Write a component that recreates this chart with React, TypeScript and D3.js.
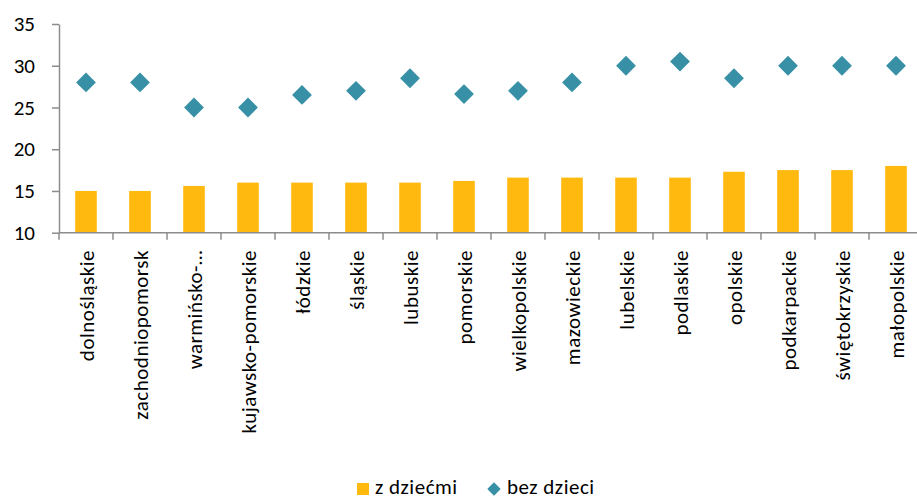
import React, { useEffect, useRef } from 'react';
import * as d3 from 'd3';

const categories = [
  'dolnośląskie', 'zachodniopomorsk', 'warmińsko-…', 'kujawsko-pomorskie',
  'łódzkie', 'śląskie', 'lubuskie', 'pomorskie', 'wielkopolskie',
  'mazowieckie', 'lubelskie', 'podlaskie', 'opolskie', 'podkarpackie',
  'świętokrzyskie', 'małopolskie',
];
const withChildren = [15, 15, 15.6, 16, 16, 16, 16, 16.2, 16.6, 16.6, 16.6, 16.6, 17.3, 17.5, 17.5, 18];
const withoutChildren = [28, 28, 25, 25, 26.5, 27, 28.5, 26.6, 27, 28, 30, 30.5, 28.5, 30, 30, 30];
const yTicks = [10, 15, 20, 25, 30, 35];
const seriesNames = ['z dziećmi', 'bez dzieci'];

const BAR = '#FFB90F';
const DIAMOND = '#3790A6';
const AXIS = '#8c8c8c';
const FONT = 'Carlito, Calibri, Lato, sans-serif';

export default function App() {
  const svgRef = useRef<SVGSVGElement>(null);
  const width = 917;
  const height = 500;

  useEffect(() => {
    document.body.style.margin = '0';
    if (!svgRef.current) return;
    const svg = d3.select(svgRef.current);
    svg.selectAll('*').remove();

    const left = 59;
    const right = 923; // the plot runs a little past the picture's edge
    const top = 24;
    const bottom = 232.7;

    const x = d3.scaleBand<string>().domain(categories).range([left, right]);
    const y = d3.scaleLinear().domain([10, 35]).range([bottom, top]);
    const barW = x.bandwidth() * 0.4;

    // bars
    svg.append('g')
      .selectAll('rect')
      .data(categories)
      .join('rect')
      .attr('x', d => (x(d) as number) + (x.bandwidth() - barW) / 2)
      .attr('y', (d, i) => y(withChildren[i]))
      .attr('width', barW)
      .attr('height', (d, i) => bottom - y(withChildren[i]))
      .attr('fill', BAR);

    // y axis
    const yAxis = svg.append('g')
      .attr('transform', `translate(${left},0)`)
      .call(d3.axisLeft(y).tickValues(yTicks).tickSize(7).tickPadding(17).tickSizeOuter(0));
    yAxis.select('.domain').attr('stroke', AXIS).attr('stroke-width', 1.5);
    yAxis.selectAll('line').attr('stroke', AXIS).attr('stroke-width', 1.5);
    yAxis.selectAll('text')
      .attr('font-family', FONT)
      .attr('font-size', '21px')
      .attr('fill', '#000');

    // x axis line and boundary ticks
    svg.append('line')
      .attr('x1', left).attr('x2', right)
      .attr('y1', bottom).attr('y2', bottom)
      .attr('stroke', AXIS).attr('stroke-width', 1.5);
    const bounds = [...categories.map(c => x(c) as number), right];
    svg.append('g')
      .selectAll('line')
      .data(bounds)
      .join('line')
      .attr('x1', d => d).attr('x2', d => d)
      .attr('y1', bottom).attr('y2', bottom + 7)
      .attr('stroke', AXIS).attr('stroke-width', 1.5);

    // x labels
    svg.append('g')
      .selectAll('text')
      .data(categories)
      .join('text')
      .attr('transform', d => `translate(${(x(d) as number) + x.bandwidth() / 2 + 1},250) rotate(-90)`)
      .attr('dy', '0.35em')
      .attr('text-anchor', 'end')
      .attr('font-family', FONT)
      .attr('font-size', '21px')
      .attr('letter-spacing', '0.5px')
      .attr('fill', '#000')
      .text(d => d);

    // diamonds
    const diamond = d3.symbol().type(d3.symbolSquare).size(196);
    svg.append('g')
      .selectAll('path')
      .data(categories)
      .join('path')
      .attr('d', diamond)
      .attr('transform', (d, i) => `translate(${(x(d) as number) + x.bandwidth() / 2},${y(withoutChildren[i])}) rotate(45)`)
      .attr('fill', DIAMOND);

    // legend
    const legend = svg.append('g').attr('transform', 'translate(357,483)');
    legend.append('rect')
      .attr('width', 12).attr('height', 12)
      .attr('fill', BAR);
    legend.append('text')
      .attr('x', 18).attr('y', 11)
      .attr('font-family', FONT).attr('font-size', '21px').attr('letter-spacing', '0.5px').attr('fill', '#000')
      .text(seriesNames[0]);
    legend.append('path')
      .attr('d', d3.symbol().type(d3.symbolSquare).size(90)())
      .attr('transform', 'translate(137,6) rotate(45)')
      .attr('fill', DIAMOND);
    legend.append('text')
      .attr('x', 150).attr('y', 11)
      .attr('font-family', FONT).attr('font-size', '21px').attr('letter-spacing', '0.5px').attr('fill', '#000')
      .text(seriesNames[1]);
  }, []);

  return <svg ref={svgRef} width={width} height={height} style={{ display: 'block' }} />;
}
